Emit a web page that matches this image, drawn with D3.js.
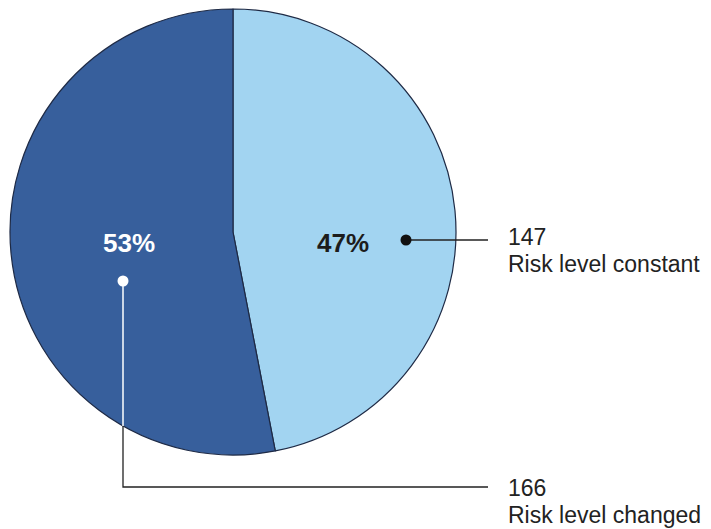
<!DOCTYPE html>
<html>
<head>
<meta charset="utf-8">
<script src="https://cdn.jsdelivr.net/npm/d3@7"></script>
<style>
  html, body { margin: 0; padding: 0; background: #fff; }
  svg { display: block; font-family: "Liberation Sans", Arial, sans-serif; }
</style>
</head>
<body>
<svg id="chart" width="711" height="529"></svg>
<script>
// Data
const categories = ["Risk level constant", "Risk level changed"];
const counts = [147, 166];
const percentLabels = ["47%", "53%"];

// Styles (kept separate from data)
const fills = ["#a2d4f1", "#375f9c"];
const pctColors = ["#1c1c1c", "#ffffff"];
const dotColors = ["#111111", "#ffffff"];
const lineColors = ["#222222", "#ffffff"];

const svg = d3.select("#chart");
const cx = 233, cy = 232, R = 223;

const data = categories.map((c, i) => ({ category: c, value: counts[i], pct: percentLabels[i], i }));

const pie = d3.pie().sort(null).value(d => d.value).startAngle(0).endAngle(2 * Math.PI);
const arcs = pie(data);
const arc = d3.arc().innerRadius(0).outerRadius(R);

const g = svg.append("g").attr("transform", `translate(${cx},${cy})`);

g.selectAll("path.slice")
  .data(arcs)
  .join("path")
  .attr("class", "slice")
  .attr("d", arc)
  .attr("fill", d => fills[d.data.i])
  .attr("stroke", "#1e2a45")
  .attr("stroke-width", 1.2)
  .attr("stroke-linejoin", "round");

// Percent labels positions (layout)
const pctPos = [[343, 252], [129, 252]];
svg.selectAll("text.pct")
  .data(data)
  .join("text")
  .attr("class", "pct")
  .attr("x", d => pctPos[d.i][0])
  .attr("y", d => pctPos[d.i][1])
  .attr("text-anchor", "middle")
  .attr("font-size", 26)
  .attr("font-weight", "bold")
  .attr("fill", d => pctColors[d.i])
  .text(d => d.pct);

// Leader lines
const labelX = 508;
const lineEndX = 488;
const dots = [[406, 240], [123, 281]];
const leaderY = [240, 487];

// line for constant (light)
svg.append("line")
  .attr("x1", dots[0][0]).attr("y1", leaderY[0])
  .attr("x2", lineEndX).attr("y2", leaderY[0])
  .attr("stroke", "#222").attr("stroke-width", 1.3);

// line for changed (dark): white inside pie part, dark outside
const yClip = cy + Math.sqrt(R * R - (dots[1][0] - cx) ** 2);
svg.append("line")
  .attr("x1", dots[1][0]).attr("y1", dots[1][1])
  .attr("x2", dots[1][0]).attr("y2", yClip)
  .attr("stroke", "#ffffff").attr("stroke-width", 1.5);
svg.append("path")
  .attr("d", `M${dots[1][0]},${yClip}L${dots[1][0]},${leaderY[1]}L${lineEndX},${leaderY[1]}`)
  .attr("fill", "none")
  .attr("stroke", "#222").attr("stroke-width", 1.3);

svg.selectAll("circle.dot")
  .data(data)
  .join("circle")
  .attr("class", "dot")
  .attr("cx", d => dots[d.i][0])
  .attr("cy", d => dots[d.i][1])
  .attr("r", 5.5)
  .attr("fill", d => dotColors[d.i]);

// Category labels
const labelY = [245, 496];
const labels = svg.selectAll("text.lab")
  .data(data)
  .join("text")
  .attr("class", "lab")
  .attr("x", labelX)
  .attr("y", d => labelY[d.i])
  .attr("font-size", 23)
  .attr("fill", "#222");
labels.append("tspan").attr("x", labelX).text(d => d.value);
labels.append("tspan").attr("x", labelX).attr("dy", 27).text(d => d.category);
</script>
</body>
</html>
